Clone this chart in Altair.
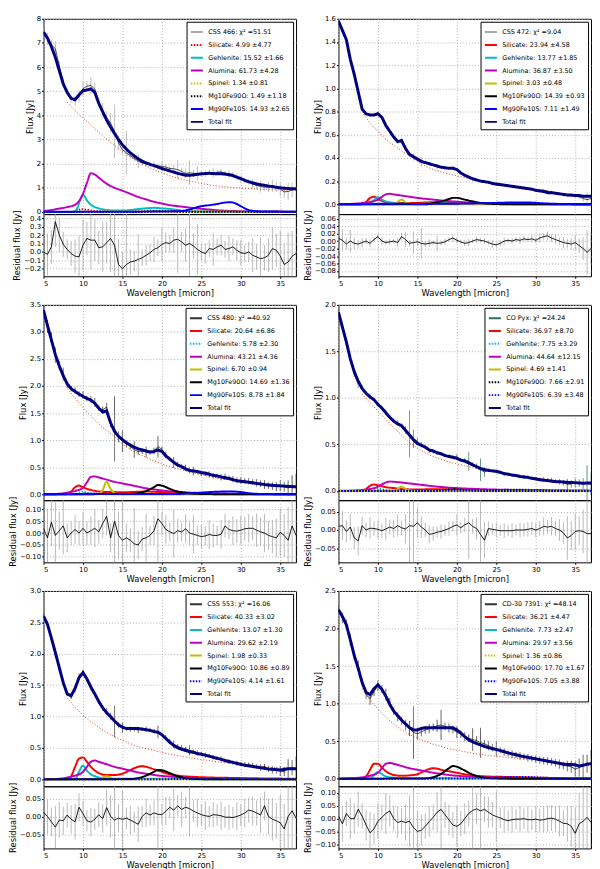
"""Spectral fits of six stars: flux with dust components, and the residuals below."""

import altair as alt
import pandas as pd

# --- shared sample positions (micron) ---------------------------------------
WAVE = [
    5.0, 5.5, 6.0, 6.5, 7.0, 7.5, 8.0, 8.5, 9.0, 9.5,
    10.0, 10.5, 11.0, 11.5, 12.0, 12.5, 13.0, 13.5, 14.0, 14.5,
    15.0, 15.5, 16.0, 16.5, 17.0, 17.5, 18.0, 18.5, 19.0, 19.5,
    20.0, 20.5, 21.0, 21.5, 22.0, 22.5, 23.0, 23.5, 24.0, 24.5,
    25.0, 25.5, 26.0, 26.5, 27.0, 27.5, 28.0, 28.5, 29.0, 29.5,
    30.0, 30.5, 31.0, 31.5, 32.0, 32.5, 33.0, 33.5, 34.0, 34.5,
    35.0, 35.5, 36.0, 36.5, 37.0,
]
CONT_WAVE = [
    8, 9, 10, 11, 12, 13, 14, 15, 16, 17,
    18, 19, 20, 21, 22, 23, 24, 25, 26, 27,
    28, 29, 30, 31, 32, 33, 34, 35, 36, 37,
]
X_TICKS = [5, 10, 15, 20, 25, 30, 35]

# --- CSS 466 -----------------------------------------------------------------
CSS466_FIT = [
    7.45, 7.2, 6.85, 6.4, 5.85, 5.3, 4.95, 4.7, 4.65, 4.85,
    5.02, 5.05, 5.1, 4.95, 4.5, 4.15, 3.8, 3.52, 3.25, 3.0,
    2.78, 2.6, 2.45, 2.32, 2.2, 2.1, 2.03, 1.97, 1.92, 1.86,
    1.8, 1.75, 1.7, 1.65, 1.6, 1.56, 1.52, 1.52, 1.53, 1.56,
    1.58, 1.59, 1.6, 1.59, 1.58, 1.58, 1.57, 1.54, 1.5, 1.44,
    1.38, 1.31, 1.25, 1.2, 1.16, 1.13, 1.1, 1.07, 1.05, 1.02,
    1.0, 0.98, 0.97, 0.96, 0.96,
]
CSS466_RESID = [
    0.0, -0.03, 0.06, 0.36, 0.2, 0.09, 0.03, -0.02, -0.05, -0.06,
    0.08, 0.16, 0.14, 0.14, 0.05, 0.06, 0.11, 0.16, 0.08, -0.15,
    -0.2, -0.15, -0.12, -0.11, -0.09, -0.07, -0.04, -0.01, 0.03, 0.05,
    0.09, 0.11, 0.1, 0.14, 0.15, 0.12, 0.08, 0.1, 0.07, 0.03,
    0.0, -0.02, 0.04, 0.03, 0.06, 0.08, 0.03, 0.04, 0.06, 0.02,
    -0.01, -0.02, 0.0, -0.04, -0.06, -0.08, -0.07, -0.04, 0.04, 0.02,
    -0.05, -0.15, -0.12, -0.05, -0.02,
]
CSS466_ERR = [
    0.2, 0.25, 0.2, 0.3, 0.2, 0.15, 0.12, 0.15, 0.2, 0.25,
    0.3, 0.2, 0.35, 0.25, 0.2, 0.3, 0.25, 0.4, 1.1, 0.3,
    0.2, 0.9, 0.15, 0.12, 0.3, 0.1, 0.12, 0.1, 0.15, 0.1,
    0.2, 0.12, 0.1, 0.15, 0.4, 0.12, 0.2, 0.5, 0.15, 0.3,
    0.1, 0.12, 0.1, 0.2, 0.1, 0.12, 0.1, 0.15, 0.1, 0.12,
    0.15, 0.1, 0.12, 0.2, 0.15, 0.25, 0.15, 0.2, 0.25, 0.2,
    0.3, 0.25, 0.35, 0.3, 0.9,
]
CSS466_CONT = [
    4.55, 4.2, 3.9, 3.6, 3.3, 3.02, 2.75, 2.5, 2.28, 2.08,
    1.9, 1.75, 1.62, 1.5, 1.4, 1.32, 1.25, 1.18, 1.12, 1.08,
    1.04, 1.01, 0.99, 0.97, 0.95, 0.93, 0.92, 0.91, 0.9, 0.89,
]
CSS466_SILICATE = [(5, 0), (8.5, 0), (9, 0.04), (9.5, 0.09), (10, 0.11), (10.5, 0.09), (11, 0.06),
                   (12, 0.03), (14, 0.02), (16, 0.03), (18, 0.05), (20, 0.04), (22, 0.02), (25, 0.01),
                   (30, 0.005), (37, 0)]
CSS466_GEHLENITE = [(5, 0), (8.8, 0), (9.2, 0.1), (9.6, 0.45), (10, 0.72), (10.5, 0.48), (11, 0.3),
                    (12, 0.15), (13, 0.08), (14, 0.06), (15, 0.06), (16, 0.08), (17, 0.12), (18, 0.15),
                    (19, 0.17), (20, 0.15), (21, 0.12), (22, 0.08), (23, 0.04), (25, 0.02), (28, 0.02),
                    (37, 0.01)]
CSS466_ALUMINA = [(5, 0.04), (6, 0.08), (7, 0.14), (8, 0.2), (9, 0.3), (9.5, 0.45), (10, 0.75),
                  (10.5, 1.2), (11, 1.6), (11.5, 1.55), (12, 1.42), (13, 1.17), (14, 1.0), (15, 0.88),
                  (16, 0.75), (17, 0.62), (18, 0.52), (19, 0.42), (20, 0.35), (21, 0.28), (22, 0.24),
                  (23, 0.2), (24, 0.16), (25, 0.13), (26, 0.1), (27, 0.07), (28, 0.05), (30, 0.03),
                  (33, 0.02), (37, 0.01)]
CSS466_SPINEL = [(5, 0), (12, 0.01), (12.5, 0.04), (13, 0.08), (13.5, 0.04), (14, 0.02), (16, 0.02),
                 (20, 0.03), (25, 0.03), (30, 0.02), (37, 0.01)]
CSS466_MG10 = [(5, 0), (17, 0), (18, 0.01), (19.5, 0.03), (21, 0.02), (23, 0.01), (37, 0)]
CSS466_MG90 = [(5, 0.01), (15, 0.01), (20, 0.02), (22, 0.03), (23, 0.06), (24, 0.15), (25, 0.24),
               (26, 0.28), (27, 0.33), (28, 0.39), (28.7, 0.4), (29.5, 0.33), (30, 0.24), (30.5, 0.15),
               (31, 0.08), (32, 0.03), (33, 0.02), (37, 0.01)]

# --- CSS 472 -----------------------------------------------------------------
CSS472_FIT = [
    1.58, 1.5, 1.42, 1.25, 1.12, 0.97, 0.82, 0.78, 0.77, 0.77,
    0.78, 0.75, 0.68, 0.63, 0.58, 0.54, 0.55, 0.48, 0.43, 0.41,
    0.39, 0.37, 0.36, 0.35, 0.34, 0.33, 0.32, 0.315, 0.31, 0.31,
    0.3, 0.27, 0.25, 0.235, 0.22, 0.21, 0.2, 0.195, 0.19, 0.18,
    0.175, 0.17, 0.165, 0.16, 0.155, 0.15, 0.145, 0.14, 0.135, 0.13,
    0.12, 0.115, 0.11, 0.1, 0.1, 0.095, 0.09, 0.085, 0.08, 0.08,
    0.075, 0.075, 0.07, 0.07, 0.07,
]
CSS472_RESID = [
    0.008, 0.002, -0.008, 0.0, -0.006, -0.008, -0.004, 0.0, -0.006, 0.004,
    0.012, 0.0, -0.004, -0.002, 0.0, -0.004, 0.012, 0.004, -0.006, -0.004,
    -0.002, -0.006, -0.008, -0.006, -0.004, -0.006, -0.005, -0.002, 0.004, 0.008,
    0.002, -0.002, -0.006, -0.004, 0.0, 0.004, 0.002, 0.0, -0.004, -0.008,
    -0.01, -0.006, 0.0, 0.002, 0.0, 0.004, 0.002, 0.006, 0.004, 0.006,
    0.002, 0.008, 0.012, 0.014, 0.008, 0.004, 0.0, -0.004, -0.006, -0.008,
    -0.004, -0.012, -0.02, -0.03, -0.02,
]
CSS472_ERR = [
    0.02, 0.03, 0.015, 0.03, 0.015, 0.01, 0.012, 0.008, 0.01, 0.006,
    0.008, 0.01, 0.006, 0.008, 0.006, 0.012, 0.01, 0.02, 0.008, 0.03,
    0.01, 0.04, 0.008, 0.01, 0.006, 0.02, 0.006, 0.008, 0.006, 0.01,
    0.008, 0.006, 0.008, 0.01, 0.006, 0.008, 0.006, 0.008, 0.006, 0.01,
    0.006, 0.008, 0.01, 0.006, 0.008, 0.006, 0.01, 0.008, 0.006, 0.01,
    0.008, 0.012, 0.008, 0.012, 0.01, 0.012, 0.01, 0.015, 0.012, 0.015,
    0.02, 0.02, 0.03, 0.06, 0.04,
]
CSS472_CONT = [
    0.8, 0.7, 0.63, 0.56, 0.51, 0.46, 0.42, 0.37, 0.33, 0.3,
    0.28, 0.26, 0.245, 0.23, 0.21, 0.195, 0.18, 0.165, 0.155, 0.145,
    0.135, 0.125, 0.115, 0.105, 0.1, 0.092, 0.086, 0.08, 0.074, 0.07,
]
CSS472_SILICATE = [(5, 0), (8, 0), (8.5, 0.02), (9, 0.055), (9.5, 0.065), (10, 0.045), (10.5, 0.03),
                   (11, 0.02), (12, 0.012), (14, 0.01), (16, 0.015), (18, 0.02), (19, 0.015), (21, 0.01),
                   (25, 0.005), (30, 0.003), (37, 0)]
CSS472_GEHLENITE = [(5, 0), (9, 0), (9.5, 0.035), (10, 0.062), (10.5, 0.04), (11, 0.025), (12, 0.01),
                    (13, 0.005), (15, 0.003), (18, 0.008), (20, 0.006), (23, 0.002), (37, 0)]
CSS472_ALUMINA = [(5, 0), (7, 0.005), (8, 0.01), (9, 0.02), (10, 0.04), (10.5, 0.065), (11, 0.085),
                  (11.5, 0.09), (12, 0.085), (13, 0.075), (14, 0.065), (15, 0.055), (16, 0.047),
                  (17, 0.04), (18, 0.033), (19, 0.027), (20, 0.022), (21, 0.017), (22, 0.013),
                  (23, 0.01), (25, 0.006), (28, 0.003), (32, 0.001), (37, 0)]
CSS472_SPINEL = [(5, 0), (12, 0), (12.5, 0.02), (13, 0.04), (13.5, 0.015), (14, 0.005), (15, 0), (37, 0)]
CSS472_MG10 = [(5, 0), (16, 0), (17, 0.01), (18, 0.025), (19, 0.045), (19.5, 0.055), (20, 0.055),
               (21, 0.04), (22, 0.025), (23, 0.012), (24, 0.005), (25, 0.002), (26, 0), (37, 0)]
CSS472_MG90 = [(5, 0), (9, 0.002), (11, 0.005), (15, 0.003), (20, 0.005), (24, 0.01), (27, 0.015),
               (29, 0.015), (31, 0.008), (33, 0.003), (37, 0)]

# --- CSS 480 -----------------------------------------------------------------
CSS480_FIT = [
    3.4, 3.12, 2.85, 2.58, 2.37, 2.19, 2.04, 1.95, 1.9, 1.85,
    1.81, 1.77, 1.74, 1.68, 1.59, 1.52, 1.54, 1.32, 1.16, 1.07,
    1.01, 0.95, 0.91, 0.87, 0.84, 0.82, 0.8, 0.78, 0.79, 0.82,
    0.79, 0.71, 0.65, 0.59, 0.54, 0.51, 0.47, 0.44, 0.43, 0.42,
    0.4, 0.39, 0.37, 0.35, 0.34, 0.32, 0.3, 0.29, 0.27, 0.25,
    0.24, 0.23, 0.22, 0.21, 0.2, 0.19, 0.18, 0.17, 0.165, 0.16,
    0.155, 0.15, 0.145, 0.14, 0.14,
]
CSS480_RESID = [
    0.02, -0.02, 0.045, -0.01, 0.01, 0.03, -0.02, 0.0, 0.015, 0.0,
    0.02, 0.0, 0.01, 0.02, 0.005, 0.04, 0.07, -0.02, 0.05, -0.01,
    -0.03, -0.02, -0.03, -0.045, -0.05, -0.025, -0.02, -0.01, 0.01, 0.06,
    0.04, 0.015, 0.005, -0.002, 0.01, 0.005, 0.018, 0.0, -0.005, -0.01,
    -0.015, -0.012, -0.006, -0.01, -0.01, -0.005, 0.03, 0.015, 0.01, 0.008,
    0.012, 0.018, 0.02, 0.02, 0.012, 0.005, 0.0, -0.01, -0.015, -0.02,
    0.003, -0.01, -0.03, 0.03, -0.01,
]
CSS480_ERR = [
    0.08, 0.12, 0.1, 0.14, 0.08, 0.12, 0.06, 0.05, 0.06, 0.05,
    0.07, 0.05, 0.06, 0.08, 0.05, 0.06, 0.08, 0.06, 0.6, 0.1,
    0.2, 0.06, 0.05, 0.15, 0.06, 0.05, 0.1, 0.04, 0.06, 0.2,
    0.05, 0.06, 0.04, 0.1, 0.05, 0.04, 0.06, 0.05, 0.08, 0.04,
    0.05, 0.04, 0.06, 0.05, 0.04, 0.06, 0.05, 0.04, 0.06, 0.05,
    0.06, 0.05, 0.06, 0.05, 0.07, 0.06, 0.08, 0.06, 0.07, 0.08,
    0.1, 0.09, 0.14, 0.18, 0.25,
]
CSS480_CONT = [
    1.95, 1.78, 1.6, 1.45, 1.3, 1.18, 1.06, 0.93, 0.83, 0.75,
    0.68, 0.62, 0.56, 0.51, 0.47, 0.43, 0.39, 0.36, 0.33, 0.3,
    0.28, 0.26, 0.24, 0.22, 0.2, 0.185, 0.17, 0.16, 0.15, 0.14,
]
CSS480_SILICATE = [(5, 0), (8, 0), (8.5, 0.05), (9, 0.13), (9.5, 0.16), (10, 0.13), (10.5, 0.1),
                   (11, 0.08), (12, 0.05), (13, 0.04), (14, 0.04), (15, 0.035), (16, 0.04), (17, 0.045),
                   (18, 0.05), (19, 0.045), (20, 0.04), (21, 0.03), (22, 0.02), (24, 0.012), (27, 0.006),
                   (30, 0.003), (37, 0)]
CSS480_GEHLENITE = [(5, 0), (9, 0), (9.5, 0.03), (10, 0.05), (10.5, 0.03), (11, 0.015), (12, 0.005),
                    (14, 0), (37, 0)]
CSS480_ALUMINA = [(5, 0), (7, 0.01), (8, 0.03), (9, 0.06), (10, 0.12), (10.5, 0.22), (11, 0.32),
                  (11.5, 0.33), (12, 0.31), (13, 0.27), (14, 0.23), (15, 0.2), (16, 0.17), (17, 0.14),
                  (18, 0.11), (19, 0.09), (20, 0.07), (21, 0.055), (22, 0.045), (23, 0.035), (24, 0.028),
                  (26, 0.018), (28, 0.012), (31, 0.006), (37, 0.002)]
CSS480_SPINEL = [(5, 0), (12, 0), (12.5, 0.08), (13, 0.23), (13.5, 0.1), (14, 0.02), (14.5, 0), (37, 0)]
CSS480_MG10 = [(5, 0), (16, 0.005), (17, 0.02), (18, 0.06), (19, 0.13), (19.5, 0.17), (20, 0.16),
               (21, 0.1), (22, 0.05), (23, 0.025), (24, 0.01), (26, 0.003), (28, 0), (37, 0)]
CSS480_MG90 = [(5, 0), (9, 0.005), (11, 0.008), (14, 0.003), (20, 0.003), (22, 0.005), (24, 0.02),
               (26, 0.04), (28, 0.05), (29, 0.05), (30, 0.04), (31, 0.02), (32, 0.008), (34, 0.002),
               (37, 0)]

# --- CO Pyx ------------------------------------------------------------------
COPYX_FIT = [
    1.92, 1.76, 1.6, 1.42, 1.28, 1.18, 1.1, 1.05, 1.01, 0.98,
    0.93, 0.89, 0.84, 0.79, 0.75, 0.72, 0.7, 0.65, 0.6, 0.55,
    0.51, 0.49, 0.47, 0.44, 0.43, 0.41, 0.4, 0.38, 0.37, 0.36,
    0.35, 0.33, 0.32, 0.3, 0.28, 0.26, 0.24, 0.23, 0.22, 0.215,
    0.21, 0.2, 0.185, 0.18, 0.17, 0.165, 0.155, 0.15, 0.145, 0.135,
    0.13, 0.12, 0.115, 0.11, 0.105, 0.1, 0.098, 0.095, 0.092, 0.09,
    0.088, 0.085, 0.082, 0.085, 0.085,
]
COPYX_RESID = [
    0.01, 0.012, -0.004, 0.008, -0.022, -0.03, 0.012, 0.0, 0.005, 0.004,
    0.002, -0.002, 0.003, 0.008, 0.004, 0.012, 0.006, 0.003, 0.012, 0.01,
    0.02, 0.008, 0.0, -0.012, -0.01, -0.006, -0.004, 0.0, 0.004, 0.01,
    0.014, 0.006, 0.014, 0.02, 0.01, 0.004, -0.012, -0.028, 0.004, 0.002,
    0.0, -0.002, -0.002, -0.002, -0.002, 0.0, 0.0, 0.0, 0.002, 0.004,
    0.0, 0.004, 0.01, 0.008, 0.01, 0.004, 0.0, -0.008, -0.022, -0.015,
    -0.004, -0.002, -0.004, -0.01, -0.01,
]
COPYX_ERR = [
    0.03, 0.04, 0.03, 0.035, 0.03, 0.04, 0.025, 0.02, 0.03, 0.02,
    0.025, 0.02, 0.03, 0.02, 0.025, 0.03, 0.02, 0.04, 0.25, 0.1,
    0.04, 0.03, 0.02, 0.025, 0.02, 0.015, 0.02, 0.015, 0.02, 0.015,
    0.03, 0.015, 0.02, 0.1, 0.02, 0.03, 0.12, 0.05, 0.02, 0.015,
    0.02, 0.015, 0.02, 0.015, 0.02, 0.015, 0.02, 0.018, 0.02, 0.018,
    0.02, 0.02, 0.025, 0.02, 0.025, 0.02, 0.03, 0.03, 0.06, 0.04,
    0.05, 0.04, 0.06, 0.2, 0.12,
]
COPYX_CONT = [
    1.04, 0.95, 0.86, 0.77, 0.68, 0.6, 0.52, 0.46, 0.41, 0.37,
    0.34, 0.31, 0.29, 0.27, 0.25, 0.23, 0.215, 0.2, 0.185, 0.17,
    0.16, 0.145, 0.135, 0.125, 0.115, 0.108, 0.1, 0.094, 0.088, 0.083,
]
COPYX_SILICATE = [(5, 0), (8, 0), (8.5, 0.02), (9, 0.055), (9.5, 0.068), (10, 0.06), (10.5, 0.05),
                  (11, 0.04), (12, 0.03), (13, 0.02), (15, 0.015), (17, 0.018), (19, 0.016), (21, 0.01),
                  (24, 0.005), (28, 0.002), (37, 0)]
COPYX_GEHLENITE = [(5, 0), (9, 0), (10, 0.025), (11, 0.01), (12, 0), (37, 0)]
COPYX_ALUMINA = [(5, 0), (8, 0.01), (9, 0.02), (10, 0.045), (10.5, 0.07), (11, 0.09), (11.5, 0.1),
                 (12, 0.098), (13, 0.09), (14, 0.08), (15, 0.07), (16, 0.06), (17, 0.05), (18, 0.042),
                 (19, 0.035), (20, 0.03), (22, 0.022), (24, 0.016), (26, 0.012), (28, 0.009), (31, 0.006),
                 (37, 0.003)]
COPYX_SPINEL = [(5, 0), (12, 0), (12.5, 0.02), (13, 0.045), (13.5, 0.02), (14, 0.005), (15, 0), (37, 0)]
COPYX_MG10 = [(5, 0), (17, 0), (18.5, 0.01), (19.5, 0.02), (21, 0.01), (23, 0), (37, 0)]
COPYX_MG90 = [(5, 0), (20, 0.002), (24, 0.008), (27, 0.012), (30, 0.01), (33, 0.004), (37, 0)]

# --- CSS 553 -----------------------------------------------------------------
CSS553_FIT = [
    2.6, 2.47, 2.25, 2.02, 1.78, 1.54, 1.36, 1.33, 1.45, 1.62,
    1.7, 1.6, 1.47, 1.36, 1.24, 1.14, 1.06, 1.0, 0.93, 0.87,
    0.83, 0.81, 0.81, 0.81, 0.81, 0.8, 0.79, 0.78, 0.76, 0.75,
    0.71, 0.65, 0.59, 0.54, 0.5, 0.48, 0.46, 0.44, 0.43, 0.41,
    0.4, 0.385, 0.37, 0.35, 0.335, 0.32, 0.3, 0.285, 0.27, 0.255,
    0.24, 0.225, 0.215, 0.205, 0.195, 0.185, 0.175, 0.165, 0.16, 0.155,
    0.15, 0.16, 0.17, 0.17, 0.17,
]
CSS553_RESID = [
    0.012, 0.0, -0.015, -0.03, -0.01, -0.012, 0.004, -0.008, -0.015, 0.026,
    0.008, -0.012, -0.016, -0.008, 0.005, -0.006, 0.025, 0.0, -0.01, -0.005,
    -0.008, -0.005, -0.01, -0.016, -0.022, 0.0, 0.01, 0.004, 0.01, 0.006,
    0.005, 0.015, 0.026, 0.018, 0.03, 0.02, 0.026, 0.022, 0.015, 0.01,
    0.005, 0.002, 0.0, 0.005, 0.004, 0.002, -0.002, -0.002, -0.003, 0.0,
    0.004, 0.01, 0.018, 0.015, 0.01, 0.004, 0.03, 0.0, -0.008, -0.012,
    -0.018, -0.035, 0.0, 0.016, -0.005,
]
CSS553_ERR = [
    0.04, 0.05, 0.04, 0.06, 0.05, 0.04, 0.035, 0.04, 0.05, 0.04,
    0.035, 0.03, 0.04, 0.03, 0.035, 0.04, 0.05, 0.06, 0.25, 0.04,
    0.08, 0.03, 0.04, 0.03, 0.05, 0.03, 0.04, 0.03, 0.035, 0.1,
    0.03, 0.04, 0.03, 0.06, 0.03, 0.05, 0.03, 0.08, 0.03, 0.04,
    0.03, 0.04, 0.03, 0.035, 0.03, 0.04, 0.03, 0.035, 0.03, 0.04,
    0.03, 0.04, 0.035, 0.04, 0.035, 0.05, 0.04, 0.05, 0.06, 0.05,
    0.08, 0.07, 0.15, 0.12, 0.2,
]
CSS553_CONT = [
    1.3, 1.15, 1.02, 0.92, 0.83, 0.75, 0.68, 0.62, 0.57, 0.52,
    0.49, 0.46, 0.43, 0.4, 0.38, 0.355, 0.335, 0.315, 0.3, 0.28,
    0.265, 0.25, 0.235, 0.225, 0.21, 0.2, 0.19, 0.18, 0.17, 0.16,
]
CSS553_SILICATE = [(5, 0), (8, 0), (8.5, 0.05), (9, 0.2), (9.5, 0.33), (10, 0.35), (10.5, 0.28),
                   (11, 0.2), (11.5, 0.14), (12, 0.1), (13, 0.07), (14, 0.07), (15, 0.09), (16, 0.15),
                   (17, 0.2), (17.5, 0.21), (18, 0.2), (19, 0.16), (20, 0.12), (21, 0.08), (22, 0.06),
                   (24, 0.04), (26, 0.03), (28, 0.025), (30, 0.02), (33, 0.015), (37, 0.01)]
CSS553_GEHLENITE = [(5, 0), (9, 0), (9.5, 0.12), (10, 0.22), (10.5, 0.14), (11, 0.08), (11.5, 0.05),
                    (12, 0.03), (13, 0.015), (14, 0.01), (16, 0.01), (18, 0.012), (20, 0.01),
                    (23, 0.004), (37, 0)]
CSS553_ALUMINA = [(5, 0), (7, 0.01), (8, 0.03), (9, 0.06), (10, 0.12), (10.5, 0.2), (11, 0.28),
                  (11.5, 0.3), (12, 0.28), (13, 0.24), (14, 0.2), (15, 0.17), (16, 0.14), (17, 0.11),
                  (18, 0.09), (19, 0.07), (20, 0.055), (21, 0.045), (22, 0.035), (24, 0.025),
                  (26, 0.018), (28, 0.012), (31, 0.008), (37, 0.004)]
CSS553_SPINEL = [(5, 0), (12, 0), (12.5, 0.03), (13, 0.055), (13.5, 0.03), (14, 0.005), (15, 0), (37, 0)]
CSS553_MG10 = [(5, 0), (16, 0.005), (17, 0.02), (18, 0.06), (19, 0.12), (19.5, 0.15), (20, 0.145),
               (21, 0.1), (22, 0.05), (23, 0.02), (24, 0.008), (26, 0.002), (28, 0), (37, 0)]
CSS553_MG90 = [(5, 0), (20, 0.003), (24, 0.008), (27, 0.012), (30, 0.01), (33, 0.004), (37, 0)]

# --- CD-30 7391 --------------------------------------------------------------
CD30_FIT = [
    2.25, 2.16, 2.05, 1.85, 1.64, 1.47, 1.28, 1.15, 1.12, 1.2,
    1.25, 1.19, 1.1, 0.99, 0.9, 0.84, 0.78, 0.73, 0.68, 0.65,
    0.65, 0.67, 0.68, 0.68, 0.68, 0.68, 0.68, 0.68, 0.68, 0.68,
    0.65, 0.61, 0.56, 0.52, 0.49, 0.47, 0.45, 0.43, 0.415, 0.4,
    0.39, 0.375, 0.36, 0.345, 0.33, 0.32, 0.305, 0.295, 0.285, 0.275,
    0.265, 0.255, 0.245, 0.235, 0.225, 0.215, 0.205, 0.195, 0.19, 0.19,
    0.185, 0.17, 0.18, 0.195, 0.2,
]
CD30_RESID = [
    0.01, -0.02, 0.02, 0.0, 0.0, 0.036, 0.01, -0.025, -0.055, -0.04,
    -0.01, 0.005, 0.02, 0.03, 0.0, -0.015, -0.01, -0.015, -0.01, -0.035,
    -0.05, -0.045, -0.03, -0.012, 0.005, 0.025, 0.036, 0.015, -0.005, -0.025,
    -0.03, -0.02, 0.0, 0.02, 0.032, 0.038, 0.03, 0.036, 0.025, 0.015,
    0.008, 0.003, -0.004, -0.008, -0.004, -0.002, -0.002, 0.0, -0.004, -0.004,
    -0.002, -0.006, -0.004, 0.0, 0.002, -0.002, -0.01, -0.018, -0.02, -0.03,
    -0.057, -0.02, -0.01, 0.005, -0.015,
]
CD30_ERR = [
    0.05, 0.07, 0.05, 0.08, 0.06, 0.07, 0.05, 0.06, 0.08, 0.06,
    0.07, 0.05, 0.08, 0.06, 0.05, 0.06, 0.05, 0.07, 0.1, 0.35,
    0.08, 0.06, 0.05, 0.06, 0.05, 0.08, 0.2, 0.05, 0.06, 0.05,
    0.08, 0.05, 0.06, 0.05, 0.15, 0.06, 0.2, 0.05, 0.06, 0.05,
    0.1, 0.04, 0.05, 0.04, 0.05, 0.04, 0.05, 0.04, 0.05, 0.04,
    0.05, 0.045, 0.05, 0.05, 0.05, 0.05, 0.06, 0.05, 0.07, 0.08,
    0.1, 0.12, 0.15, 0.12, 0.2,
]
CD30_CONT = [
    1.2, 1.05, 0.93, 0.82, 0.73, 0.65, 0.59, 0.54, 0.5, 0.46,
    0.43, 0.4, 0.38, 0.36, 0.34, 0.325, 0.31, 0.3, 0.29, 0.28,
    0.27, 0.26, 0.25, 0.24, 0.23, 0.22, 0.2, 0.19, 0.18, 0.17,
]
CD30_SILICATE = [(5, 0), (8, 0), (8.5, 0.03), (9, 0.12), (9.5, 0.2), (10, 0.2), (10.5, 0.15), (11, 0.1),
                 (11.5, 0.07), (12, 0.05), (13, 0.04), (14, 0.045), (15, 0.06), (16, 0.11), (17, 0.14),
                 (17.5, 0.135), (18, 0.12), (19, 0.1), (20, 0.08), (21, 0.06), (22, 0.045), (24, 0.03),
                 (26, 0.025), (28, 0.02), (30, 0.015), (33, 0.01), (37, 0.005)]
CD30_GEHLENITE = [(5, 0), (9, 0), (9.5, 0.05), (10, 0.09), (10.5, 0.06), (11, 0.03), (12, 0.015),
                  (13, 0.008), (15, 0.005), (18, 0.006), (20, 0.005), (24, 0.002), (37, 0)]
CD30_ALUMINA = [(5, 0), (7, 0.01), (8, 0.02), (9, 0.04), (10, 0.08), (10.5, 0.14), (11, 0.2),
                (11.5, 0.21), (12, 0.2), (13, 0.17), (14, 0.14), (15, 0.12), (16, 0.1), (17, 0.08),
                (18, 0.065), (19, 0.05), (20, 0.04), (21, 0.032), (22, 0.025), (24, 0.018), (26, 0.013),
                (28, 0.01), (31, 0.006), (37, 0.003)]
CD30_SPINEL = [(5, 0), (12, 0), (13, 0.02), (14, 0), (37, 0)]
CD30_MG10 = [(5, 0), (16, 0.005), (17, 0.02), (18, 0.065), (19, 0.14), (19.5, 0.17), (20, 0.16),
             (21, 0.11), (22, 0.055), (23, 0.025), (24, 0.01), (26, 0.003), (28, 0), (37, 0)]
CD30_MG90 = [(5, 0), (22, 0.005), (25, 0.015), (28, 0.025), (30, 0.02), (32, 0.008), (34, 0), (37, 0)]

# --- styles --------------------------------------------------------------------
RED, CYAN, MAGENTA, YELLOW = "#ff0000", "#00bfbf", "#bf00bf", "#bfbf00"
BLACK, BLUE, NAVY = "#000000", "#0000ff", "#000080"
ERR_GREY = "#a8a8a8"
SOLID, DOTTED = [1, 0], [1.5, 1.5]

W, H_MAIN, H_RES = 256, 198, 63

PANELS = [
    dict(label="CSS 466: χ² =51.51", data_color=ERR_GREY,
         fit=CSS466_FIT, resid=CSS466_RESID, err=CSS466_ERR, cont=CSS466_CONT,
         comps=[("Silicate: 4.99 ±4.77", CSS466_SILICATE, RED, DOTTED),
                ("Gehlenite: 15.52 ±1.66", CSS466_GEHLENITE, CYAN, SOLID),
                ("Alumina: 61.73 ±4.28", CSS466_ALUMINA, MAGENTA, SOLID),
                ("Spinel: 1.34 ±0.81", CSS466_SPINEL, YELLOW, DOTTED),
                ("Mg10Fe90O: 1.49 ±1.18", CSS466_MG10, BLACK, DOTTED),
                ("Mg90Fe10S: 14.93 ±2.65", CSS466_MG90, BLUE, SOLID)],
         y_dom=[-0.09, 8.0], y_ticks=[0, 1, 2, 3, 4, 5, 6, 7, 8], y_fmt="d",
         r_dom=[-0.29, 0.45], r_ticks=[-0.2, -0.1, 0.0, 0.1, 0.2, 0.3, 0.4], r_fmt=".1f"),
    dict(label="CSS 472: χ² =9.04", data_color=ERR_GREY,
         fit=CSS472_FIT, resid=CSS472_RESID, err=CSS472_ERR, cont=CSS472_CONT,
         comps=[("Silicate: 23.94 ±4.58", CSS472_SILICATE, RED, SOLID),
                ("Gehlenite: 13.77 ±1.85", CSS472_GEHLENITE, CYAN, SOLID),
                ("Alumina: 36.87 ±3.50", CSS472_ALUMINA, MAGENTA, SOLID),
                ("Spinel: 3.03 ±0.48", CSS472_SPINEL, YELLOW, SOLID),
                ("Mg10Fe90O: 14.39 ±0.93", CSS472_MG10, BLACK, SOLID),
                ("Mg90Fe10S: 7.11 ±1.49", CSS472_MG90, BLUE, SOLID)],
         y_dom=[-0.085, 1.6], y_ticks=[0.0, 0.2, 0.4, 0.6, 0.8, 1.0, 1.2, 1.4, 1.6], y_fmt=".1f",
         r_dom=[-0.094, 0.072], r_ticks=[-0.08, -0.06, -0.04, -0.02, 0.0, 0.02, 0.04, 0.06], r_fmt=".2f"),
    dict(label="CSS 480: χ² =40.92", data_color="#333333",
         fit=CSS480_FIT, resid=CSS480_RESID, err=CSS480_ERR, cont=CSS480_CONT,
         comps=[("Silicate: 20.64 ±6.86", CSS480_SILICATE, RED, SOLID),
                ("Gehlenite: 5.78 ±2.30", CSS480_GEHLENITE, CYAN, DOTTED),
                ("Alumina: 43.21 ±4.36", CSS480_ALUMINA, MAGENTA, SOLID),
                ("Spinel: 6.70 ±0.94", CSS480_SPINEL, YELLOW, SOLID),
                ("Mg10Fe90O: 14.69 ±1.36", CSS480_MG10, BLACK, SOLID),
                ("Mg90Fe10S: 8.78 ±1.84", CSS480_MG90, BLUE, SOLID)],
         y_dom=[-0.11, 3.5], y_ticks=[0.0, 0.5, 1.0, 1.5, 2.0, 2.5, 3.0, 3.5], y_fmt=".1f",
         r_dom=[-0.123, 0.138], r_ticks=[-0.1, -0.05, 0.0, 0.05, 0.1], r_fmt=".2f"),
    dict(label="CO Pyx: χ² =24.24", data_color="#2f6f62",
         fit=COPYX_FIT, resid=COPYX_RESID, err=COPYX_ERR, cont=COPYX_CONT,
         comps=[("Silicate: 36.97 ±8.70", COPYX_SILICATE, RED, SOLID),
                ("Gehlenite: 7.75 ±3.29", COPYX_GEHLENITE, CYAN, DOTTED),
                ("Alumina: 44.64 ±12.15", COPYX_ALUMINA, MAGENTA, SOLID),
                ("Spinel: 4.69 ±1.41", COPYX_SPINEL, YELLOW, SOLID),
                ("Mg10Fe90O: 7.66 ±2.91", COPYX_MG10, BLACK, DOTTED),
                ("Mg90Fe10S: 6.39 ±3.48", COPYX_MG90, BLUE, DOTTED)],
         y_dom=[-0.1, 2.0], y_ticks=[0.0, 0.5, 1.0, 1.5, 2.0], y_fmt=".1f",
         r_dom=[-0.089, 0.082], r_ticks=[-0.05, 0.0, 0.05], r_fmt=".2f"),
    dict(label="CSS 553: χ² =16.06", data_color="#333333",
         fit=CSS553_FIT, resid=CSS553_RESID, err=CSS553_ERR, cont=CSS553_CONT,
         comps=[("Silicate: 40.33 ±3.02", CSS553_SILICATE, RED, SOLID),
                ("Gehlenite: 13.07 ±1.30", CSS553_GEHLENITE, CYAN, SOLID),
                ("Alumina: 29.62 ±2.19", CSS553_ALUMINA, MAGENTA, SOLID),
                ("Spinel: 1.98 ±0.33", CSS553_SPINEL, YELLOW, SOLID),
                ("Mg10Fe90O: 10.86 ±0.89", CSS553_MG10, BLACK, SOLID),
                ("Mg90Fe10S: 4.14 ±1.61", CSS553_MG90, BLUE, DOTTED)],
         y_dom=[-0.11, 3.0], y_ticks=[0.0, 0.5, 1.0, 1.5, 2.0, 2.5, 3.0], y_fmt=".1f",
         r_dom=[-0.09, 0.085], r_ticks=[-0.05, 0.0, 0.05], r_fmt=".2f"),
    dict(label="CD-30 7391: χ² =48.14", data_color="#333333",
         fit=CD30_FIT, resid=CD30_RESID, err=CD30_ERR, cont=CD30_CONT,
         comps=[("Silicate: 36.21 ±4.47", CD30_SILICATE, RED, SOLID),
                ("Gehlenite: 7.73 ±2.47", CD30_GEHLENITE, CYAN, SOLID),
                ("Alumina: 29.97 ±3.56", CD30_ALUMINA, MAGENTA, SOLID),
                ("Spinel: 1.36 ±0.86", CD30_SPINEL, YELLOW, DOTTED),
                ("Mg10Fe90O: 17.70 ±1.67", CD30_MG10, BLACK, SOLID),
                ("Mg90Fe10S: 7.05 ±3.88", CD30_MG90, BLUE, DOTTED)],
         y_dom=[-0.1, 2.5], y_ticks=[0.0, 0.5, 1.0, 1.5, 2.0, 2.5], y_fmt=".1f",
         r_dom=[-0.116, 0.126], r_ticks=[-0.1, -0.05, 0.0, 0.05, 0.1], r_fmt=".2f"),
]


def x_enc(with_labels: bool) -> alt.X:
    if with_labels:
        axis = alt.Axis(values=X_TICKS, format="d", title="Wavelength [micron]")
    else:
        axis = alt.Axis(values=X_TICKS, labels=False, ticks=False, title=None)
    return alt.X("wave:Q", scale=alt.Scale(domain=[5, 37], nice=False, zero=False), axis=axis)


def paneel(p: dict) -> alt.VConcatChart:
    domain = [p["label"]] + [c[0] for c in p["comps"]] + ["Total fit"]
    colors = [p["data_color"]] + [c[2] for c in p["comps"]] + [NAVY]
    dashes = [SOLID] + [c[3] for c in p["comps"]] + [SOLID]
    color = alt.Color("series:N", scale=alt.Scale(domain=domain, range=colors), legend=alt.Legend(title=None))
    dash = alt.StrokeDash("series:N", scale=alt.Scale(domain=domain, range=dashes), legend=alt.Legend(title=None))

    def y_main(field: str) -> alt.Y:
        return alt.Y(f"{field}:Q", scale=alt.Scale(domain=p["y_dom"], nice=False, zero=False),
                     axis=alt.Axis(values=p["y_ticks"], format=p["y_fmt"], title="Flux [Jy]"))

    def y_res(field: str) -> alt.Y:
        return alt.Y(f"{field}:Q", scale=alt.Scale(domain=p["r_dom"], nice=False, zero=False),
                     axis=alt.Axis(values=p["r_ticks"], format=p["r_fmt"], title="Residual flux [Jy]"))

    obs = pd.DataFrame({"wave": WAVE, "fit": p["fit"], "resid": p["resid"], "err": p["err"]})
    obs["flux"] = obs["fit"] + obs["resid"]  # residual = observed - fit
    obs["lo"] = obs["flux"] - obs["err"]
    obs["hi"] = obs["flux"] + obs["err"]
    obs["rlo"] = obs["resid"] - obs["err"]
    obs["rhi"] = obs["resid"] + obs["err"]
    obs["series"] = p["label"]

    total = pd.DataFrame({"wave": WAVE, "flux": p["fit"], "series": "Total fit"})
    cont = pd.DataFrame({"wave": CONT_WAVE, "flux": p["cont"]})
    comps = pd.DataFrame(
        [{"wave": x, "flux": y, "series": naam} for naam, pts, _, _ in p["comps"] for x, y in pts]
    )

    bars = alt.Chart(obs).mark_rule(strokeWidth=0.8, clip=True).encode(
        x=x_enc(False), y=y_main("lo"), y2="hi:Q", color=color, strokeDash=dash)
    obs_line = alt.Chart(obs).mark_line(color="black", strokeWidth=0.7, clip=True).encode(
        x=x_enc(False), y=y_main("flux"))
    cont_line = alt.Chart(cont).mark_line(color="#e8361e", strokeWidth=1, strokeDash=[1, 2],
                                          interpolate="monotone", clip=True).encode(
        x=x_enc(False), y=y_main("flux"))
    comp_lines = alt.Chart(comps).mark_line(strokeWidth=2, interpolate="monotone", clip=True).encode(
        x=x_enc(False), y=y_main("flux"), color=color, strokeDash=dash)
    total_line = alt.Chart(total).mark_line(strokeWidth=3, clip=True).encode(
        x=x_enc(False), y=y_main("flux"), color=color, strokeDash=dash)
    main = alt.layer(bars, obs_line, cont_line, comp_lines, total_line).properties(width=W, height=H_MAIN)

    res_bars = alt.Chart(obs).mark_rule(color=ERR_GREY, strokeWidth=0.8, clip=True).encode(
        x=x_enc(True), y=y_res("rlo"), y2="rhi:Q")
    res_line = alt.Chart(obs).mark_line(color="black", strokeWidth=0.9, clip=True).encode(
        x=x_enc(True), y=y_res("resid"))
    resid = alt.layer(res_bars, res_line).properties(width=W, height=H_RES)

    return alt.vconcat(main, resid, spacing=0, bounds="flush").resolve_scale(
        color="independent", strokeDash="independent")


chart = alt.concat(
    *[paneel(p) for p in PANELS], columns=2, spacing={"row": 3, "column": 6}, align="each", padding=0
).resolve_scale(
    color="independent", strokeDash="independent"
).configure_view(
    stroke="black", strokeWidth=1
).configure_axis(
    labelFont="DejaVu Sans", labelFontSize=7, labelColor="black",
    titleFont="DejaVu Sans", titleFontSize=8.5, titleFontWeight="normal", titleColor="black",
    gridColor="#b0b0b0", gridDash=[1, 2], gridOpacity=1,
    tickColor="black", tickSize=2, labelPadding=1, titlePadding=2, domain=False,
).configure_legend(
    orient="top-right", offset=3, padding=3, strokeColor="black", fillColor="white",
    labelFont="DejaVu Sans", labelFontSize=6.5, symbolType="stroke", symbolStrokeWidth=2,
    symbolSize=150, rowPadding=1, labelOffset=4, cornerRadius=0,
)

chart.save("out.html", embed_options={"renderer": "svg", "actions": False})
